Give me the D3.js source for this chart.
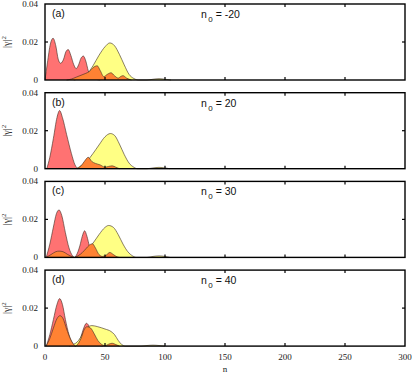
<!DOCTYPE html>
<html>
<head>
<meta charset="utf-8">
<script src="https://cdn.jsdelivr.net/npm/d3@7"></script>
<style>
  body { margin: 0; background: #fff; }
  svg { display: block; }
</style>
</head>
<body>
<script>
const width = 415;
const height = 375;

// panel labels
const panelTags = ["(a)", "(b)", "(c)", "(d)"];
const n0Values = ["-20", "20", "30", "40"];

// axis ticks
const xTicks = [0, 50, 100, 150, 200, 250, 300];
const yTicks = [0, 0.02, 0.04];

// [n, |gamma|^2]
const redA = [[0,0],[2,0.009],[4.5,0.019],[6.7,0.022],[9,0.018],[11,0.011],[13,0.0088],[15.5,0.011],[17.5,0.015],[19.4,0.016],[21.5,0.013],[24,0.008],[26,0.006],[28,0.008],[30,0.0115],[32,0.0126],[34,0.01],[36,0.005],[38,0.002],[42,0.0005],[46,0]];
const yellowA = [[24,0],[30,0.001],[35,0.003],[40,0.0075],[45,0.013],[50,0.0175],[54,0.0195],[58,0.018],[62,0.0135],[66,0.008],[70,0.003],[74,0.0008],[78,0],[85,0],[90,0.0004],[95,0.0007],[100,0.0004],[105,0]];
const orangeA = [[18,0],[22,0.0005],[26,0.0015],[30,0.0025],[34,0.0035],[37,0.0045],[40,0.0065],[43.5,0.0075],[46,0.005],[49,0.0018],[52,0.003],[55,0.0038],[58,0.0022],[61,0.001],[63,0.0018],[65,0.0023],[68,0.001],[72,0]];

const redB = [[1.5,0],[4,0.006],[7,0.016],[10,0.027],[12.2,0.0306],[14.5,0.027],[18,0.018],[22,0.008],[25,0.002],[27.5,0]];
const yellowB = [[26,0],[30,0.0015],[35,0.004],[40,0.008],[45,0.0125],[50,0.0168],[54.5,0.0185],[58,0.0175],[62,0.013],[66,0.0075],[70,0.003],[74,0.0008],[77,0],[85,0],[90,0.0004],[95,0.0007],[100,0.0004],[104,0]];
const orangeB = [[27,0],[30,0.0015],[33,0.004],[36,0.006],[39,0.0038],[42,0.0028],[46,0.002],[50,0.0008],[53,0.0012],[56,0.0015],[59,0.0008],[62,0]];

const redC = [[1,0],[4,0.007],[7,0.016],[9.5,0.023],[11.7,0.025],[14,0.022],[17,0.013],[20,0.005],[23,0.0008],[24.5,0],[26,0.001],[29,0.006],[31,0.011],[33,0.014],[35,0.011],[37,0.006],[39,0.0025],[42,0.0008],[46,0]];
const yellowC = [[25,0],[30,0.0015],[35,0.004],[40,0.0075],[45,0.012],[50,0.0158],[53,0.0168],[57,0.0158],[61,0.012],[65,0.007],[69,0.003],[73,0.0008],[76,0],[85,0],[90,0.0005],[95,0.0008],[100,0.0005],[104,0]];
const orangeC = [[1,0],[5,0.0015],[9,0.003],[11.7,0.0033],[15,0.003],[19,0.0015],[23,0.0003],[24.5,0],[28,0.001],[31,0.0025],[34,0.0045],[37,0.0065],[39.5,0.0072],[42,0.005],[45,0.0015],[48,0.0005],[51,0.0012],[54,0.0026],[57,0.0015],[60,0.0003],[62,0]];

const redD = [[1,0],[4,0.006],[7,0.014],[10,0.022],[12.2,0.025],[14.5,0.022],[17,0.014],[20,0.006],[23,0.0015],[25,0],[27,0.001],[30,0.005],[32,0.009],[34.5,0.012],[37,0.01],[39,0.006],[41,0.003],[44,0.001],[48,0]];
const yellowD = [[20,0],[23,0.0008],[25.5,0.0015],[28,0.003],[31,0.006],[35,0.0095],[39,0.0108],[44,0.0102],[50,0.009],[55,0.0077],[58,0.006],[61,0.003],[64,0.0008],[67,0],[80,0],[85,0.0003],[90,0.0005],[95,0.0003],[100,0]];
const orangeD = [[1,0],[4,0.004],[7,0.0095],[10,0.0145],[12.5,0.016],[15,0.0145],[18,0.009],[21,0.004],[24,0.0008],[25.5,0],[27,0.0008],[30,0.004],[32.5,0.0085],[35,0.0102],[38,0.0095],[41,0.0065],[44,0.003],[47,0.001],[50,0.0002],[53,0.001],[56,0.0015],[59,0.0008],[62,0]];

const panels = [
  {red: redA, yellow: yellowA, orange: orangeA},
  {red: redB, yellow: yellowB, orange: orangeB},
  {red: redC, yellow: yellowC, orange: orangeC},
  {red: redD, yellow: yellowD, orange: orangeD}
];

const colors = {red: "#ff7272", yellow: "#ffff73", orange: "#ff8233"};

const left = 45, right = 405;
const panelTop0 = 4, panelStep = 88.7, panelH = 76;

const svg = d3.select("body").append("svg")
  .attr("width", width)
  .attr("height", height);

const x = d3.scaleLinear().domain([0, 300]).range([left, right]);

panels.forEach((p, i) => {
  const top = panelTop0 + i * panelStep;
  const bottom = top + panelH;
  const y = d3.scaleLinear().domain([0, 0.04]).range([bottom, top]);

  const g = svg.append("g");

  const area = d3.area()
    .x(d => x(d[0]))
    .y0(y(0))
    .y1(d => y(d[1]))
    .curve(d3.curveMonotoneX);

  const line = d3.line()
    .x(d => x(d[0]))
    .y(d => y(d[1]))
    .curve(d3.curveMonotoneX);

  ["red", "yellow", "orange"].forEach(key => {
    g.append("path")
      .datum(p[key])
      .attr("d", area)
      .attr("fill", colors[key])
      .attr("fill-opacity", key === "yellow" ? 0.88 : 1);
    g.append("path")
      .datum(p[key])
      .attr("d", line)
      .attr("fill", "none")
      .attr("stroke", "#3a2a20")
      .attr("stroke-width", 0.6);
  });

  // frame
  g.append("rect")
    .attr("x", left)
    .attr("y", top)
    .attr("width", right - left)
    .attr("height", panelH)
    .attr("fill", "none")
    .attr("stroke", "#000")
    .attr("stroke-width", 1.4);

  // inner ticks
  xTicks.slice(1, -1).forEach(t => {
    g.append("line").attr("x1", x(t)).attr("x2", x(t))
      .attr("y1", top).attr("y2", top + 3)
      .attr("stroke", "#000").attr("stroke-width", 1.2);
    g.append("line").attr("x1", x(t)).attr("x2", x(t))
      .attr("y1", bottom).attr("y2", bottom - 3)
      .attr("stroke", "#000").attr("stroke-width", 1.2);
  });
  g.append("line").attr("x1", left).attr("x2", left + 3)
    .attr("y1", y(0.02)).attr("y2", y(0.02))
    .attr("stroke", "#000").attr("stroke-width", 1.2);
  g.append("line").attr("x1", right).attr("x2", right - 3)
    .attr("y1", y(0.02)).attr("y2", y(0.02))
    .attr("stroke", "#000").attr("stroke-width", 1.2);

  // y tick labels
  g.selectAll(".ytl")
    .data(yTicks)
    .enter()
    .append("text")
    .attr("x", 38)
    .attr("y", d => y(d) + 3)
    .attr("text-anchor", "end")
    .style("font-family", "Liberation Serif")
    .style("font-size", "9px")
    .attr("fill", "#222")
    .text(d => d === 0 ? "0" : d3.format(".2f")(d));

  // y label
  const yl = g.append("text")
    .attr("transform", `translate(10, ${(top + bottom) / 2}) rotate(-90)`)
    .attr("text-anchor", "middle")
    .style("font-family", "Liberation Serif")
    .style("font-size", "10px")
    .attr("fill", "#333");
  yl.append("tspan").text("|γ|");
  yl.append("tspan").attr("dy", -4).style("font-size", "7px").text("2");

  // panel tag
  g.append("text")
    .attr("x", 52)
    .attr("y", top + 13)
    .style("font-family", "Liberation Sans")
    .style("font-size", "10.5px")
    .attr("fill", "#111")
    .text(panelTags[i]);

  // n0 label
  const nl = g.append("text")
    .attr("x", 201)
    .attr("y", top + 14)
    .style("font-family", "Liberation Sans")
    .style("font-size", "10.5px")
    .attr("fill", "#111");
  nl.append("tspan").text("n");
  nl.append("tspan").attr("dx", 1.5).attr("dy", 4).style("font-size", "8px").text("0");
  nl.append("tspan").attr("dy", -4).text(" = " + n0Values[i]);
});

// x tick labels
const lastBottom = panelTop0 + 3 * panelStep + panelH;
svg.selectAll(".xtl")
  .data(xTicks)
  .enter()
  .append("text")
  .attr("x", d => x(d))
  .attr("y", lastBottom + 14)
  .attr("text-anchor", "middle")
  .style("font-family", "Liberation Serif")
  .style("font-size", "9px")
  .attr("fill", "#222")
  .text(d => d);

svg.append("text")
  .attr("x", x(150))
  .attr("y", lastBottom + 26)
  .attr("text-anchor", "middle")
  .style("font-family", "Liberation Serif")
  .style("font-size", "9px")
  .attr("fill", "#222")
  .text("n");
</script>
</body>
</html>
